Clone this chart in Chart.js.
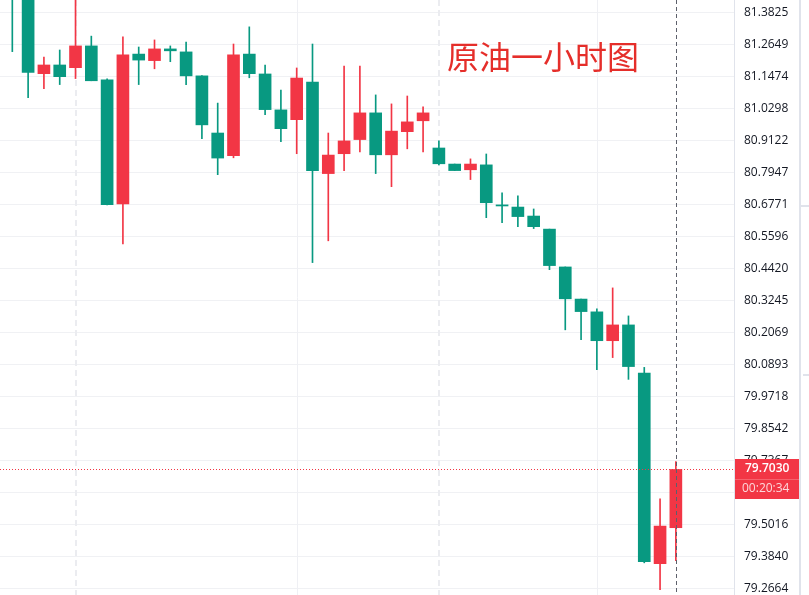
<!DOCTYPE html>
<html><head><meta charset="utf-8">
<script src="https://cdn.jsdelivr.net/npm/chart.js@4.4.1/dist/chart.umd.min.js"></script>
<style>html,body{margin:0;padding:0;background:#fff;overflow:hidden}canvas{display:block}</style>
</head><body>
<canvas id="c" width="809" height="595"></canvas>
<script>
// ---- data (1-hour crude oil candles) ----
const candleIndex = [0,1,2,3,4,5,6,7,8,9,10,11,12,13,14,15,16,17,18,19,20,21,22,23,24,25,26,27,28,29,30,31,32,33,34,35,36,37,38,39,40,41,42];
const opens  = [81.520,81.470,81.157,81.189,81.179,81.259,81.134,80.679,81.229,81.205,81.248,81.237,81.149,80.939,80.856,81.229,81.156,81.024,80.988,81.126,80.790,80.863,80.915,81.013,80.859,80.944,80.984,80.884,80.825,80.804,80.822,80.675,80.667,80.634,80.586,80.447,80.329,80.282,80.176,80.234,80.057,79.357,79.489];
const highs  = [81.560,81.500,81.218,81.244,81.450,81.295,81.138,81.292,81.255,81.281,81.259,81.273,81.150,81.049,81.266,81.329,81.189,81.097,81.178,81.266,80.939,81.185,81.185,81.079,81.046,81.075,81.035,80.910,80.825,80.844,80.862,80.719,80.708,80.660,80.586,80.447,80.329,80.293,80.370,80.267,80.078,79.595,79.732];
const lows   = [81.238,81.069,81.102,81.117,81.139,81.131,80.675,80.532,81.117,81.175,81.201,81.117,80.918,80.786,80.848,81.142,81.006,80.907,80.863,80.463,80.543,80.801,80.870,80.790,80.742,80.881,80.870,80.822,80.801,80.768,80.628,80.610,80.595,80.588,80.437,80.216,80.180,80.070,80.114,80.034,79.360,79.261,79.368];
const closes = [81.460,81.162,81.189,81.146,81.259,81.131,80.676,81.226,81.207,81.248,81.241,81.149,80.969,80.847,81.226,81.157,81.025,80.955,81.141,80.801,80.858,80.910,81.013,80.859,80.946,80.980,81.013,80.826,80.801,80.825,80.683,80.671,80.632,80.595,80.452,80.330,80.283,80.176,80.234,80.081,79.364,79.495,79.703];
const yTickLabels = ["81.3825","81.2649","81.1474","81.0298","80.9122","80.7947","80.6771","80.5596","80.4420","80.3245","80.2069","80.0893","79.9718","79.8542","79.7367","79.6191","79.5016","79.3840","79.2664"];
const dashedTimeLines = [4, 27];
const solidTimeLines = [18, 37];
const lastPrice = 79.7030;
const lastPriceLabel = "79.7030";
const countdownLabel = "00:20:34";
const titleText = "原油一小时图";

const UP = '#F23645', DOWN = '#089981';
const colors = candleIndex.map(i => closes[i] >= opens[i] ? UP : DOWN);
const bodies = candleIndex.map(i => ({x: i, y: [opens[i], closes[i]]}));
const wicks = candleIndex.map(i => ({x: i, y: [lows[i], highs[i]]}));

const overlay = {
  id: 'overlay',
  beforeDatasetsDraw(chart) {
    const {ctx, chartArea: a, scales: {x}} = chart;
    ctx.save();
    ctx.lineWidth = 1; ctx.strokeStyle = '#eff0f4';
    solidTimeLines.forEach(v => {
      const px = Math.round(x.getPixelForValue(v)) + 0.5;
      ctx.beginPath(); ctx.moveTo(px, a.top); ctx.lineTo(px, a.bottom); ctx.stroke();
    });
    ctx.lineWidth = 2; ctx.strokeStyle = '#ebecf0'; ctx.setLineDash([6, 4]);
    dashedTimeLines.forEach(v => {
      const px = Math.round(x.getPixelForValue(v));
      ctx.beginPath(); ctx.moveTo(px, a.top); ctx.lineTo(px, a.bottom); ctx.stroke();
    });
    ctx.restore();
  },
  afterDatasetsDraw(chart) {
    const {ctx, chartArea: a, scales: {x, y}} = chart;
    ctx.save();
    // last price dotted line
    const py = Math.round(y.getPixelForValue(lastPrice)) + 0.5;
    ctx.strokeStyle = '#F23645'; ctx.lineWidth = 1; ctx.setLineDash([1, 2]);
    ctx.beginPath(); ctx.moveTo(a.left, py); ctx.lineTo(a.right, py); ctx.stroke();
    // crosshair vertical
    const cx = Math.round(x.getPixelForValue(candleIndex[candleIndex.length - 1])) + 0.5;
    ctx.strokeStyle = '#5d606b'; ctx.setLineDash([4, 3]);
    ctx.beginPath(); ctx.moveTo(cx, a.top); ctx.lineTo(cx, a.bottom); ctx.stroke();
    ctx.setLineDash([]);
    // title
    ctx.fillStyle = '#e52e2a';
    ctx.font = '32px "Noto Sans CJK SC"';
    ctx.textBaseline = 'middle'; ctx.textAlign = 'left';
    ctx.fillText(titleText, 447, 57);
    ctx.restore();
  },
  afterDraw(chart) {
    const {ctx, chartArea: a, scales: {y}} = chart;
    ctx.save();
    const py = Math.round(y.getPixelForValue(lastPrice));
    ctx.fillStyle = '#F23645';
    ctx.fillRect(a.right + 1, py - 10, 64, 40);
    ctx.fillStyle = 'rgba(255,255,255,0.22)';
    ctx.fillRect(a.right + 1, py + 10, 64, 1);
    ctx.textBaseline = 'middle'; ctx.textAlign = 'left';
    ctx.fillStyle = '#ffffff';
    ctx.font = '600 12px "Open Sans"';
    ctx.fillText(lastPriceLabel, 745, py);
    ctx.fillStyle = 'rgba(255,255,255,0.8)';
    ctx.font = '12px "Open Sans"';
    ctx.fillText(countdownLabel, 742, py + 20);
    // right panel edge
    ctx.fillStyle = '#e0e3eb';
    ctx.fillRect(799, 0, 2, 595);
    ctx.fillRect(801, 205, 8, 2);
    ctx.fillRect(803, 374, 6, 2);
    ctx.restore();
  }
};

new Chart(document.getElementById('c'), {
  type: 'bar',
  data: {
    datasets: [
      {label: 'body', data: bodies, backgroundColor: colors, barThickness: 12, grouped: false, borderWidth: 0, borderSkipped: false, order: 0},
      {label: 'wick', data: wicks, backgroundColor: colors, barThickness: 1, grouped: false, borderWidth: 0, borderSkipped: false, order: 1}
    ]
  },
  options: {
    responsive: false,
    animation: false,
    layout: {padding: 0},
    plugins: {legend: {display: false}, tooltip: {enabled: false}},
    scales: {
      x: {type: 'linear', min: -0.78, max: 45.68, display: false, offset: false},
      y: {
        position: 'right',
        min: 79.2418, max: 81.4277,
        afterBuildTicks: s => { s.ticks = yTickLabels.map(t => ({value: parseFloat(t)})); },
        afterFit: s => { s.width = 75; s.paddingTop = 0; s.paddingBottom = 0; },
        ticks: {
          autoSkip: false,
          callback: (v, i) => yTickLabels[i],
          color: '#131722',
          font: {family: '"Open Sans"', size: 12},
          padding: 10,
          crossAlign: 'near'
        },
        grid: {color: '#f0f1f4', lineWidth: 1, drawTicks: false},
        border: {display: true, color: '#e0e3eb', width: 1}
      }
    }
  },
  plugins: [overlay]
});
</script>
</body></html>
